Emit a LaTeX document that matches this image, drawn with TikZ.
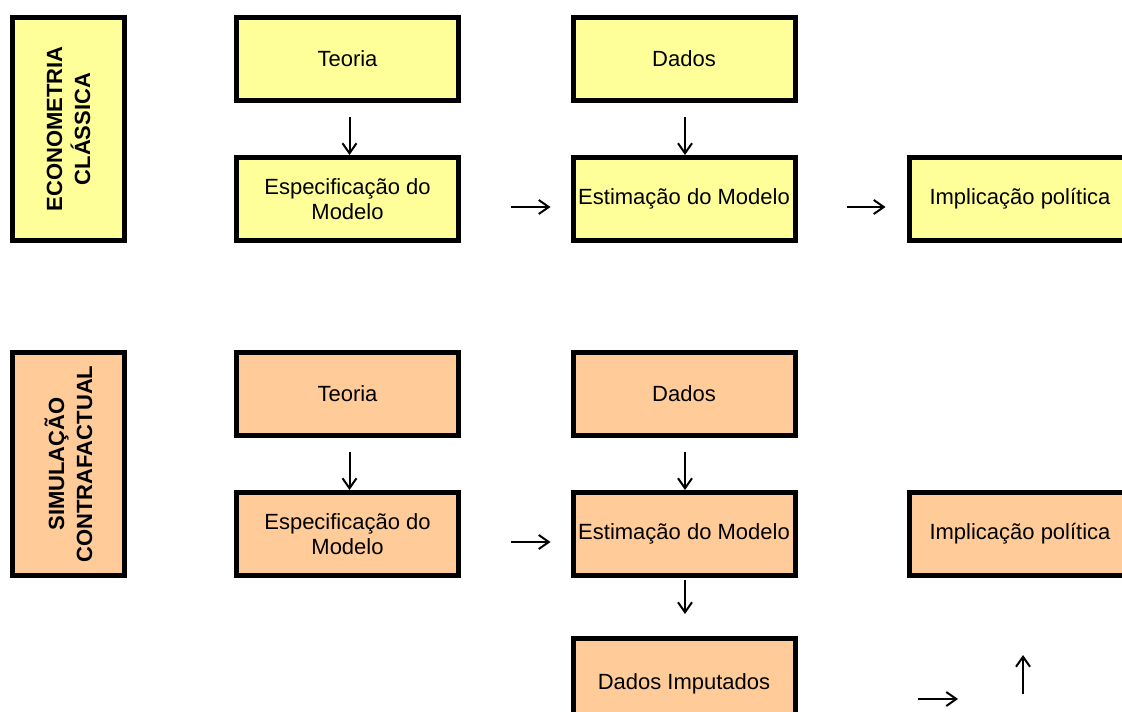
\documentclass[tikz,border=0pt]{standalone}
\usepackage{fontspec}
\setmainfont{Liberation Sans}
\usetikzlibrary{arrows.meta}
\definecolor{amarelo}{HTML}{FFFF99}
\definecolor{laranja}{HTML}{FFCC99}
\begin{document}
\begin{tikzpicture}[>={Straight Barb[length=5pt,width=7pt]},x=0.5pt,y=-0.5pt,
caixa/.style={draw,line width=2.5pt,minimum width=111pt,minimum height=41.5pt,align=center,inner sep=1pt,font=\fontsize{11}{12.5}\selectfont},
lado/.style={caixa,rotate=90,minimum width=111.5pt,minimum height=56pt,font=\fontsize{11}{14}\selectfont\bfseries},
seta/.style={->,line width=1pt}]
\def\dy{335} % deslocamento do segundo bloco
\useasboundingbox (0,0) rectangle (1122,711);
\clip (0,0) rectangle (1122,711);
% econometria classica
\node[lado,fill=amarelo] (ec) at (68.5,129) {ECONOMETRIA\\CLÁSSICA};
\node[caixa,fill=amarelo] (teo1) at (347.5,59) {Teoria};
\node[caixa,fill=amarelo] (esp1) at (347.5,199) {Especificação do\\Modelo};
\node[caixa,fill=amarelo] (dad1) at (684,59) {Dados};
\node[caixa,fill=amarelo] (est1) at (684,199) {Estimação do Modelo};
\node[caixa,fill=amarelo] (pol1) at (1020,199) {Implicação política};
\draw[seta,shorten <=7pt] ([xshift=1pt]teo1.south) -- ([xshift=1pt]esp1.north);
\draw[seta,shorten <=7pt] ([xshift=0.5pt]dad1.south) -- ([xshift=0.5pt]est1.north);
\draw[seta,shorten <=25pt,shorten >=10pt] ([yshift=-4pt]esp1.east) -- ([yshift=-4pt]est1.west);
\draw[seta,shorten <=24.5pt,shorten >=10.5pt] ([yshift=-4pt]est1.east) -- ([yshift=-4pt]pol1.west);
% simulacao contrafactual
\node[lado,fill=laranja] (sc) at (68.5,129+\dy) {SIMULAÇÃO\\CONTRAFACTUAL};
\node[caixa,fill=laranja] (teo2) at (347.5,59+\dy) {Teoria};
\node[caixa,fill=laranja] (esp2) at (347.5,199+\dy) {Especificação do\\Modelo};
\node[caixa,fill=laranja] (dad2) at (684,59+\dy) {Dados};
\node[caixa,fill=laranja] (est2) at (684,199+\dy) {Estimação do Modelo};
\node[caixa,fill=laranja] (pol2) at (1020,199+\dy) {Implicação política};
\node[caixa,fill=laranja,minimum height=45.5pt] (imp) at (684,684) {Dados Imputados};
\draw[seta,shorten <=7pt] ([xshift=1pt]teo2.south) -- ([xshift=1pt]esp2.north);
\draw[seta,shorten <=7pt] ([xshift=0.5pt]dad2.south) -- ([xshift=0.5pt]est2.north);
\draw[seta,shorten <=25pt,shorten >=10pt] ([yshift=-4pt]esp2.east) -- ([yshift=-4pt]est2.west);
\draw[seta,shorten <=1pt,shorten >=11pt] ([xshift=0.5pt]est2.south) -- ([xshift=0.5pt]imp.north);
\coordinate (d1) at (918,699);
\coordinate (d2) at (958,699);
\coordinate (u1) at (1023,694);
\coordinate (u2) at (1023,655);
\draw[seta] (d1) -- (d2);
\draw[seta] (u1) -- (u2);
\end{tikzpicture}
\end{document}
